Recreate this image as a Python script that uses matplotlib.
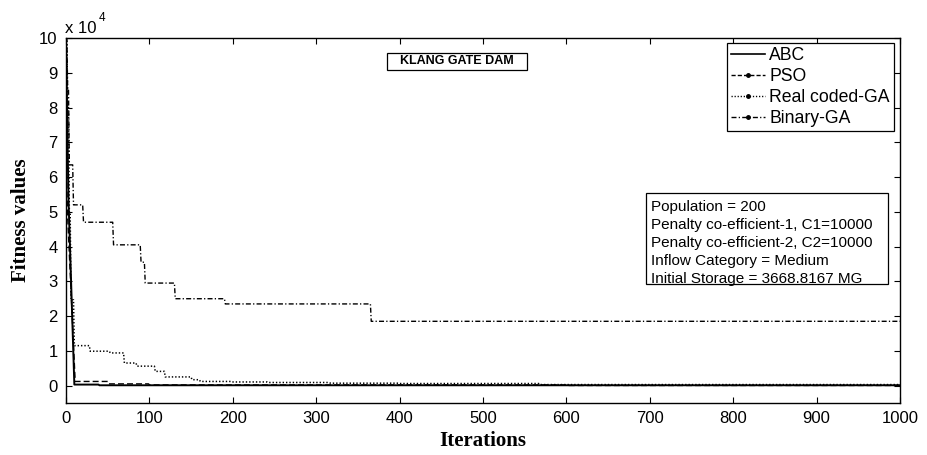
import numpy as np
import matplotlib
matplotlib.use("Agg")
import matplotlib.pyplot as plt
from matplotlib.lines import Line2D
from matplotlib.patches import Rectangle

# ---------------- data (fitness values, breakpoints: iteration -> value held until next) -------------
n_iter = 1000
abc_it = [0, 1, 2, 3, 4, 5, 6, 7, 8, 9, 10, 40]
abc_val = [100000, 85000, 68000, 53500, 46000, 38500, 31000, 23500, 16000, 8500, 300, 100]

pso_it = [0, 1, 2, 3, 4, 5, 6, 7, 8, 9, 10, 11, 51, 100, 600]
pso_val = [100000, 58000, 48500, 43000, 37800, 32600, 27400, 22200, 17000, 11800, 6600, 1200, 500, 200, 50]

rga_it = [0, 2, 4, 6, 10, 29, 53, 70, 85, 107, 119, 151, 161, 199, 242, 317, 400, 568]
rga_val = [100000, 80000, 50000, 24700, 11500, 9900, 9400, 6500, 5600, 4100, 2500, 1700,
           1200, 1050, 900, 700, 600, 300]

bga_it = [0, 2, 4, 9, 21, 57, 90, 95, 131, 191, 366]
bga_val = [100000, 85000, 63500, 52000, 47000, 40500, 35500, 29500, 25000, 23500, 18500]

labels = ["ABC", "PSO", "Real coded-GA", "Binary-GA"]
xticks = list(range(0, 1001, 100))
yticks = list(range(0, 11))
info_lines = ["Population = 200",
              "Penalty co-efficient-1, C1=10000",
              "Penalty co-efficient-2, C2=10000",
              "Inflow Category = Medium",
              "Initial Storage = 3668.8167 MG"]
title_text = "KLANG GATE DAM"


def hold(its, vals):
    """expand breakpoints to per-iteration values (value held until next breakpoint)"""
    x = np.arange(0, n_iter + 1)
    idx = np.searchsorted(np.array(its), x, side="right") - 1
    return x, np.array(vals, dtype=float)[idx]


W, H = 928, 455
fig = plt.figure(figsize=(W / 100, H / 100), dpi=100)
fx = lambda x: x / W
fy = lambda y: 1 - y / H

L, R, T, B = 66, 900, 38, 403
ax = fig.add_axes([fx(L), fy(B), (R - L) / W, (B - T) / H])

sans = ["Liberation Sans", "DejaVu Sans"]
serif = ["Liberation Serif", "DejaVu Serif"]

styles = [
    dict(ls="-", lw=1.4),
    dict(ls=(0, (4.3, 2.2)), lw=1.0),
    dict(ls=(0, (0.9, 1.3)), lw=1.1),
    dict(ls=(0, (3.6, 1.6, 0.9, 1.6)), lw=1.0),
]
series = [(abc_it, abc_val), (pso_it, pso_val), (rga_it, rga_val), (bga_it, bga_val)]
for (its, vals), st in zip(series, styles):
    x, y = hold(its, vals)
    ax.plot(x, y, color="black", **st)

ax.set_xlim(0, 1000)
ax.set_ylim(-5000, 100000)
ax.set_xticks(xticks)
ax.set_yticks([v * 1e4 for v in yticks])
ax.set_xticklabels([str(v) for v in xticks], fontfamily=sans, fontsize=12)
ax.set_yticklabels([str(v) for v in yticks], fontfamily=sans, fontsize=12)
ax.tick_params(direction="in", length=4.5, width=0.8, top=True, right=True, pad=6)
for s in ax.spines.values():
    s.set_linewidth(1.0)

# offset text  x 10^4
fig.text(fx(65), fy(33), "x 10", fontfamily=sans, fontsize=12, va="baseline", ha="left")
fig.text(fx(98.5), fy(21), "4", fontfamily=sans, fontsize=8.5, va="baseline", ha="left")

# axis labels
fig.text(fx(483), fy(441), "Iterations", fontfamily=serif, fontweight="bold",
         fontsize=15, ha="center", va="center")
fig.text(fx(21), fy(220), "Fitness values", fontfamily=serif, fontweight="bold",
         fontsize=15, ha="center", va="center", rotation=90)

# legend
handles = [
    Line2D([], [], color="black", ls="-", lw=1.2),
    Line2D([], [], color="black", ls=(0, (3, 1.5)), lw=1.0, marker=".", markersize=5),
    Line2D([], [], color="black", ls=(0, (0.9, 1.3)), lw=1.0, marker=".", markersize=5),
    Line2D([], [], color="black", ls=(0, (3.6, 1.6, 0.9, 1.6)), lw=1.0, marker=".", markersize=5),
]
leg = fig.legend(handles, labels, loc="upper right", bbox_to_anchor=(fx(894), fy(43)),
                 prop=dict(family=sans, size=12.7), frameon=True, fancybox=False,
                 edgecolor="black", framealpha=1, handlelength=1.9, handletextpad=0.25,
                 labelspacing=0.22, borderpad=0.25, borderaxespad=0, numpoints=1)
leg.get_frame().set_linewidth(0.9)

# title box
ax.add_patch(Rectangle((fx(387), fy(70)), (527 - 387) / W, (70 - 53) / H,
                       transform=fig.transFigure, fill=False, edgecolor="black", lw=0.9))
fig.text(fx(457), fy(61.5), title_text, fontfamily=sans, fontweight="bold", fontsize=9,
         ha="center", va="center")

# info box
ax.add_patch(Rectangle((fx(646), fy(284)), (888 - 646) / W, (284 - 193) / H,
                       transform=fig.transFigure, facecolor="white", edgecolor="black", lw=0.9,
                       zorder=5))
for i, line in enumerate(info_lines):
    fig.text(fx(651), fy(211 + 18 * i), line, fontfamily=sans, fontsize=11,
             ha="left", va="baseline", zorder=6)

fig.savefig("out.png", dpi=100, facecolor="white")
